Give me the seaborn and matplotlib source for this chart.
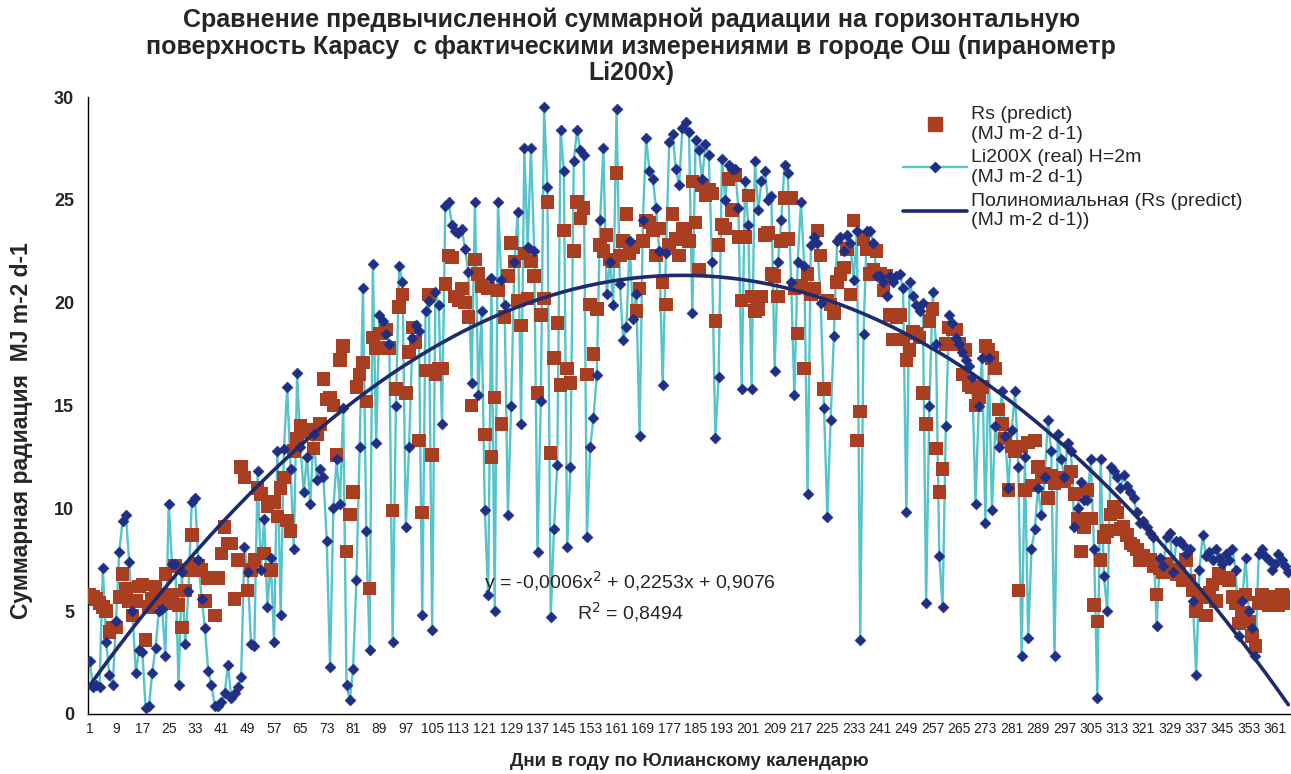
import numpy as np
import matplotlib.pyplot as plt
from matplotlib.lines import Line2D
import pandas as pd
import seaborn as sns

# days of the year
days = list(range(1, 366))

real = [
    2.6, 1.3, 1.4, 1.3, 7.1, 3.5, 1.9, 1.4, 4.5, 7.9,
    9.4, 9.7, 7.4, 5.0, 2.0, 3.1, 3.0, 0.3, 0.4, 2.0,
    3.2, 5.0, 5.1, 2.8, 10.2, 7.3, 7.3, 1.4, 6.9, 3.4,
    6.0, 10.3, 10.5, 7.5, 5.6, 4.2, 2.1, 1.4, 0.4, 0.4,
    0.6, 1.0, 2.4, 0.8, 1.0, 1.3, 1.8, 8.1, 6.9, 3.4,
    3.3, 11.8, 7.0, 9.5, 5.2, 7.6, 3.5, 12.8, 4.8, 12.9,
    15.9, 11.9, 8.0, 16.6, 13.0, 10.8, 12.5, 10.2, 13.6, 11.4,
    11.9, 11.5, 8.4, 2.3, 10.0, 12.4, 10.2, 14.9, 1.4, 0.7,
    2.2, 6.5, 13.0, 20.7, 8.9, 3.1, 21.9, 13.2, 19.4, 19.1,
    18.5, 18.0, 3.5, 15.0, 21.8, 21.0, 9.1, 13.0, 18.3, 18.9,
    18.6, 4.8, 19.6, 20.1, 4.1, 20.5, 19.9, 14.1, 24.7, 24.9,
    23.8, 23.5, 23.4, 23.6, 22.6, 21.5, 16.1, 24.9, 15.5, 19.6,
    9.9, 5.8, 21.2, 5.0, 24.9, 21.1, 19.9, 9.7, 15.0, 22.0,
    24.4, 14.1, 27.5, 22.7, 27.5, 22.5, 7.9, 15.2, 29.5, 25.6,
    4.7, 9.0, 12.1, 28.4, 26.4, 8.1, 12.0, 26.9, 28.4, 27.4,
    27.2, 8.6, 13.0, 14.4, 16.5, 24.0, 27.5, 20.4, 22.0, 19.9,
    29.4, 20.9, 18.2, 18.8, 23.0, 19.2, 20.4, 13.5, 24.0, 28.0,
    26.4, 26.0, 24.6, 22.5, 16.0, 22.4, 27.8, 28.2, 26.5, 25.7,
    28.5, 28.8, 28.3, 19.5, 27.9, 27.4, 26.0, 27.7, 27.2, 22.0,
    13.4, 16.4, 27.0, 25.0, 26.7, 26.5, 26.5, 24.6, 15.8, 25.9,
    23.8, 15.8, 26.9, 24.5, 25.9, 26.4, 25.0, 25.2, 16.7, 22.0,
    24.0, 26.7, 26.3, 21.0, 15.5, 22.0, 24.9, 21.8, 10.7, 22.8,
    23.2, 22.9, 20.0, 14.9, 9.6, 14.3, 18.4, 23.0, 23.2, 22.5,
    23.3, 22.9, 21.1, 23.5, 3.6, 18.5, 23.5, 23.5, 22.9, 21.3,
    21.3, 21.0, 20.3, 21.3, 21.0, 21.3, 21.4, 20.7, 9.8, 21.0,
    20.3, 19.9, 19.6, 20.0, 5.4, 15.0, 20.5, 18.0, 7.7, 5.2,
    14.0, 19.4, 19.0, 18.3, 18.0, 17.6, 17.2, 16.9, 16.4, 10.2,
    15.0, 17.3, 9.3, 17.3, 9.9, 14.0, 13.0, 15.7, 13.5, 11.0,
    13.8, 15.7, 12.0, 2.8, 12.5, 3.7, 8.0, 9.0, 11.0, 9.7,
    11.5, 14.3, 12.8, 2.8, 13.6, 12.4, 11.5, 13.2, 12.8, 9.1,
    10.0, 11.3, 10.4, 10.4, 12.4, 8.0, 0.8, 12.4, 6.7, 5.0,
    12.0, 11.8, 11.5, 11.0, 11.6, 11.1, 10.8, 10.5, 9.8, 9.3,
    9.4, 9.1, 8.8, 8.6, 4.3, 7.6, 7.2, 8.6, 8.8, 6.9,
    8.4, 8.4, 8.2, 7.8, 8.0, 5.5, 1.9, 7.0, 8.7, 7.7,
    7.9, 7.5, 8.0, 7.6, 7.3, 7.8, 7.5, 8.0, 7.0, 3.8,
    5.5, 7.6, 5.0, 4.2, 2.8, 7.8, 8.0, 7.7, 7.5, 7.0,
    7.3, 7.8, 7.5, 7.2, 6.9,
]

# Rs predicted, MJ m-2 d-1
predict = [
    5.8, 5.7, 5.6, 5.4, 5.2, 5.0, 4.0, 4.2, 4.2, 5.7,
    6.8, 6.1, 5.5, 4.8, 5.5, 6.2, 6.3, 3.6, 5.2, 5.6,
    6.2, 5.8, 5.5, 6.8, 5.4, 5.8, 7.2, 5.3, 4.2, 6.0,
    7.0, 8.7, 7.3, 7.2, 7.0, 5.5, 6.6, 6.6, 4.8, 6.6,
    7.8, 9.1, 8.3, 8.3, 5.6, 7.5, 12.0, 11.5, 6.0, 7.0,
    7.5, 11.0, 10.7, 7.8, 10.1, 7.0, 10.3, 9.6, 11.0, 11.5,
    9.4, 8.9, 12.8, 13.4, 14.0, 13.8, 13.7, 13.8, 12.9, 13.6,
    14.1, 16.3, 15.3, 15.4, 15.0, 12.6, 17.2, 17.9, 7.9, 9.7,
    10.8, 15.9, 16.5, 17.1, 15.2, 6.1, 18.3, 17.8, 18.5, 17.8,
    18.7, 17.8, 9.9, 15.8, 19.8, 20.4, 15.6, 17.6, 18.8, 18.1,
    13.3, 9.8, 16.7, 20.4, 12.6, 16.5, 16.8, 16.8, 20.9, 22.3,
    22.2, 20.3, 20.1, 20.7, 20.0, 19.3, 15.0, 22.1, 21.4, 20.8,
    13.6, 20.7, 12.5, 15.4, 20.6, 14.1, 19.3, 21.3, 22.9, 22.0,
    20.1, 18.9, 22.4, 20.2, 22.0, 21.3, 15.6, 19.4, 20.2, 24.9,
    12.7, 17.3, 19.0, 16.0, 23.5, 16.8, 16.1, 22.5, 24.9, 24.1,
    24.6, 16.5, 19.9, 17.5, 19.7, 22.8, 22.5, 23.3, 22.1, 22.0,
    26.3, 22.3, 23.0, 24.3, 22.4, 22.7, 19.6, 20.7, 23.0, 24.0,
    23.9, 23.5, 22.3, 23.6, 21.0, 19.9, 22.8, 24.3, 23.1, 22.3,
    23.6, 23.3, 23.0, 25.9, 23.9, 21.6, 25.7, 25.2, 25.5, 25.3,
    19.1, 22.8, 23.8, 23.6, 26.0, 24.5, 26.2, 23.2, 20.1, 23.2,
    25.2, 20.3, 19.6, 19.7, 20.3, 23.3, 23.4, 21.4, 21.3, 20.3,
    23.0, 25.1, 23.1, 25.1, 20.7, 18.5, 20.8, 16.8, 21.4, 20.4,
    20.7, 23.5, 22.3, 15.8, 20.1, 19.9, 19.5, 21.0, 21.4, 21.7,
    22.6, 20.4, 24.0, 13.3, 14.7, 23.1, 22.6, 21.4, 21.6, 22.5,
    21.4, 20.6, 21.3, 19.4, 18.2, 19.3, 19.4, 18.2, 17.2, 17.7,
    18.6, 18.5, 18.3, 15.6, 14.1, 19.1, 19.7, 12.9, 10.8, 11.9,
    18.0, 18.8, 18.7, 18.7, 18.0, 16.5, 17.7, 16.0, 15.9, 15.0,
    15.4, 15.9, 17.9, 17.7, 17.3, 16.8, 14.8, 14.1, 13.4, 10.9,
    13.0, 12.8, 6.0, 13.0, 10.9, 13.2, 11.1, 13.3, 12.0, 11.5,
    11.7, 10.5, 11.6, 11.2, 11.5, 11.5, 11.3, 11.5, 11.8, 10.7,
    9.5, 7.9, 9.1, 10.9, 9.5, 5.3, 4.5, 7.5, 8.6, 8.9,
    9.7, 10.1, 9.8, 9.0, 9.1, 8.7, 8.3, 8.2, 8.0, 7.5,
    7.7, 7.5, 7.5, 7.2, 5.8, 7.1, 6.9, 7.3, 7.0, 7.0,
    6.8, 6.8, 6.5, 7.5, 6.5, 6.0, 5.0, 5.8, 5.7, 4.8,
    5.9, 6.3, 5.5, 6.8, 6.6, 6.6, 6.5, 5.7, 5.4, 4.4,
    4.9, 5.8, 4.5, 3.8, 3.3, 5.4, 5.8, 5.7, 5.3, 5.7,
    5.6, 5.3, 5.8, 5.4, 5.7,
]

tick_days = list(range(1, 366, 8))

title = ("Сравнение предвычисленной суммарной радиации на горизонтальную\n"
         "поверхность Карасу  с фактическими измерениями в городе Ош (пиранометр\n"
         "Li200x)")
eq_text = "y = -0,0006x$^2$ + 0,2253x + 0,9076\nR$^2$ = 0,8494"
legend_labels = ["Rs (predict)\n(MJ m-2 d-1)",
                 "Li200X (real) H=2m\n(MJ m-2 d-1)",
                 "Полиномиальная (Rs (predict)\n(MJ m-2 d-1))"]

red = "#A93F20"
cyan = "#55C4CB"
navy = "#1F2F86"
trend_col = "#1D2A6E"

df = pd.DataFrame({"day": days, "real": real, "predict": predict})

sns.set_style("white")
plt.rcParams['font.family'] = ['Liberation Sans', 'DejaVu Sans']

fig = plt.figure(figsize=(12.91, 7.74), dpi=100)
ax = fig.add_axes([88 / 1291, 60 / 774, 1202 / 1291, 617 / 774])

# measured line, predicted squares on it, diamonds on top
sns.lineplot(data=df, x="day", y="real", ax=ax, color=cyan, linewidth=1.7, zorder=2)
sns.scatterplot(data=df, x="day", y="predict", ax=ax, marker="s", s=95,
                color=red, edgecolor="none", linewidth=0, zorder=3)
sns.scatterplot(data=df, x="day", y="real", ax=ax, marker="D", s=32,
                color=navy, edgecolor=navy, linewidth=0.3, zorder=4)
sns.regplot(data=df, x="day", y="predict", ax=ax, order=2, scatter=False, ci=None,
            line_kws=dict(color=trend_col, linewidth=2.6, zorder=5))

ax.set_xlim(0.5, 365.5)
ax.set_ylim(0, 30)
ax.set_yticks([0, 5, 10, 15, 20, 25, 30])
ax.set_yticklabels(["0", "5", "10", "15", "20", "25", "30"], fontweight="bold", fontsize=13)
ax.set_xticks(days)
ax.set_xticklabels([str(d) if d in tick_days else "" for d in days], fontsize=10)
ax.tick_params(axis="x", length=4, width=0.7, direction="out", pad=2, colors="#222222")
ax.tick_params(axis="y", length=4, width=0.8, direction="out", pad=6)
for side in ["top", "right"]:
    ax.spines[side].set_visible(False)
for side in ["left", "bottom"]:
    ax.spines[side].set_color("black")
    ax.spines[side].set_linewidth(1.0)

ax.set_xlabel("Дни в году по Юлианскому календарю", fontweight="bold", fontsize=13.5)
ax.xaxis.set_label_coords(0.5, -0.063)
ax.set_ylabel("Суммарная радиация  MJ m-2 d-1", fontweight="bold", fontsize=16.5)
ax.yaxis.set_label_coords(-0.046, 0.46)

ax.text(0.451, 0.19, eq_text, transform=ax.transAxes, ha="center", va="center",
        fontsize=14, linespacing=1.25)

fig.text(0.489, 0.99, title, ha="center", va="top", fontsize=18, fontweight="bold",
         linespacing=1.12)

handles = [
    Line2D([], [], marker="s", linestyle="none", markersize=10, color=red),
    Line2D([], [], color=cyan, linewidth=1.7, marker="D", markersize=5.5,
           markerfacecolor=navy, markeredgecolor=navy),
    Line2D([], [], color=trend_col, linewidth=2.6),
]
ax.legend(handles, legend_labels, loc="upper left",
          bbox_to_anchor=(903 / 1291, 1 - 106 / 774), bbox_transform=fig.transFigure,
          frameon=False, fontsize=14, handlelength=3.3, handletextpad=0.2,
          labelspacing=0.35, borderaxespad=0, borderpad=0)

fig.savefig("out.png", dpi=100)
